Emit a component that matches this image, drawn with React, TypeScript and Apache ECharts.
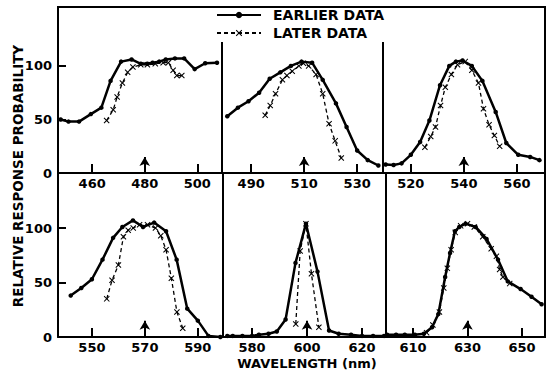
import React, { useEffect, useRef } from "react";
import * as echarts from "echarts";

// ---- data (wavelength nm, relative response probability) ----
const earlierP1 = [[448,50],[451,48],[455,48],[459.5,55],[463.5,61],[467,86],[471,104],[475,106],[478.5,102],[481,102],[483,103],[485.5,104],[488,106],[491.5,107],[495,107],[499,97],[503,102.5],[507.5,103]];
const laterP1 = [[465.5,49],[468,59],[469.5,71],[471.5,84],[473.5,94],[475.5,99],[478.5,101],[481,101],[484,102],[487,103],[489,103],[490.8,96],[492.2,91],[494.1,91]];

const earlierP2 = [[481,53],[485,61],[489,67],[493,75],[497,88],[501,94],[505,100],[509,104],[513,103],[517,87],[522,65],[526,43],[530,21],[534,12],[538,7]];
const laterP2 = [[495.3,54],[497.2,63],[499.2,74],[501.8,87],[503.5,91],[505.5,95],[508,100],[509.7,102.5],[511.7,100],[514.5,92],[517,74],[519.4,46],[521.7,30],[524,14]];

const earlierP3 = [[510.5,8],[513.5,7.5],[516.5,9],[520,17],[523.5,29],[527,49],[531,82],[534.5,100],[537,104],[539.5,105],[543,100],[547,86],[552,57],[556,28],[560.5,17],[565,15],[568.5,12]];
const laterP3 = [[525.3,24],[527.5,34],[529.3,43],[531.2,63],[533,80],[535.3,92],[537.6,101],[540.5,104],[543,96],[545.5,84],[547.4,60],[549.5,45],[551.5,35],[553.5,25]];

const earlierP4 = [[542,38],[546,45],[550,53],[554,71],[558,91],[561.5,101],[565.5,107],[569.3,101],[573.5,105],[578,97],[582,71],[586,26],[590,15],[594,1],[598.5,0]];
const laterP4 = [[555.6,35],[557.6,52],[560,66],[561.9,92],[563.7,98],[565.6,100],[568,103],[571,103],[574,100],[576,93],[578,80],[580,54],[582.1,23],[584.3,8]];

const earlierP5 = [[571,1],[573,1],[576.5,1],[580,1],[582.5,2],[586,3],[589,5],[592.2,16],[595.8,68],[599.6,104],[603.8,60],[608,6],[611.5,3],[616,2],[620,1],[624,1],[628,1]];
const laterP5 = [[595.9,12],[597.5,79],[599.6,104],[601.6,58],[604.3,9]];

const earlierP6 = [[600.5,2],[603.8,2],[607,2],[610.7,2],[614,3],[617,9],[619.3,21],[621.8,55],[623.6,77],[625.4,97],[627,101],[629.3,104],[633,101],[637,90],[641.2,71],[644.8,51],[649.5,44],[653.5,37],[657.2,30]];
const laterP6 = [[615,4],[617.3,11],[619.7,23],[621.3,45],[622.6,63],[624,80],[625.5,96],[627.5,102],[630,104],[632.5,101],[635.6,92],[638.7,81],[640.6,74],[641.8,62],[643,55],[645.5,49]];

const earlierSets = [earlierP1, earlierP2, earlierP3, earlierP4, earlierP5, earlierP6];
const laterSets = [laterP1, laterP2, laterP3, laterP4, laterP5, laterP6];

const tickLabels = [[460,480,500],[490,510,530],[520,540,560],[550,570,590],[580,600,620],[610,630,650]];
const centerWavelengths = [480, 510, 540, 570, 600, 630];
const xRanges = [[447,509.4],[479,539.75],[509.5,570.6],[537.2,599.5],[569.45,628.7],[600.1,658.45]];
const yTicks = [0, 50, 100];
const seriesNames = ["EARLIER DATA", "LATER DATA"];

const FONT = "DejaVu Sans";
const X_SYMBOL = "path://M0,1.2L1.2,0L5,3.8L8.8,0L10,1.2L6.2,5L10,8.8L8.8,10L5,6.2L1.2,10L0,8.8L3.8,5Z";

export default function App() {
  const ref = useRef<HTMLDivElement>(null);
  useEffect(() => {
    if (!ref.current) return;
    const chart = echarts.init(ref.current, null, { renderer: "svg" });
    const grids = [
      { left: 58, top: 7, width: 164, height: 166 },
      { left: 222, top: 7, width: 161, height: 166 },
      { left: 383, top: 7, width: 162, height: 166 },
      { left: 58, top: 173, width: 165, height: 164 },
      { left: 223, top: 173, width: 163, height: 164 },
      { left: 386, top: 173, width: 159, height: 164 },
    ];
    const black = "#000";
    const xAxis = grids.map((_, i) => ({
      type: "value",
      gridIndex: i,
      min: xRanges[i][0],
      max: xRanges[i][1],
      axisLine: { show: true, onZero: false, lineStyle: { color: black, width: 2 } },
      axisTick: { show: true, inside: true, length: 9, customValues: tickLabels[i], lineStyle: { color: black, width: 2 } },
      axisLabel: { show: true, customValues: tickLabels[i], color: black, fontSize: 13, fontWeight: "bold", fontFamily: FONT, margin: 4 },
      splitLine: { show: false },
    }));
    const yAxis = grids.map((_, i) => {
      const left = i === 0 || i === 3;
      return {
        type: "value",
        gridIndex: i,
        min: 0,
        max: i < 3 ? 155 : 150.5,
        axisLine: { show: left, lineStyle: { color: black, width: 2 } },
        axisTick: { show: left, inside: true, length: 8, customValues: [50, 100], lineStyle: { color: black, width: 2 } },
        axisLabel: { show: left, customValues: yTicks, color: black, fontSize: 13, fontWeight: "bold", fontFamily: FONT, margin: 6 },
        splitLine: { show: false },
      };
    });
    const series: any[] = [];
    grids.forEach((_, i) => {
      series.push({
        type: "line",
        name: seriesNames[0],
        xAxisIndex: i,
        yAxisIndex: i,
        data: earlierSets[i],
        symbol: "circle",
        symbolSize: 4.5,
        showAllSymbol: true,
        lineStyle: { color: black, width: 2.5 },
        itemStyle: { color: black },
        markLine: {
          silent: true,
          symbol: ["none", "arrow"],
          symbolSize: [8, 9],
          label: { show: false },
          lineStyle: { color: black, width: 2, type: "solid" },
          data: [[{ coord: [centerWavelengths[i], 0] }, { coord: [centerWavelengths[i], 15] }]],
        },
      });
      series.push({
        type: "line",
        name: seriesNames[1],
        xAxisIndex: i,
        yAxisIndex: i,
        data: laterSets[i],
        symbol: X_SYMBOL,
        symbolSize: 6,
        showAllSymbol: true,
        lineStyle: { color: black, width: 1.3, type: [4, 3] },
        itemStyle: { color: black },
      });
    });
    const line = (x1: number, y1: number, x2: number, y2: number) => ({
      type: "line",
      shape: { x1, y1, x2, y2 },
      style: { stroke: black, lineWidth: 2 },
      silent: true,
    });
    chart.setOption({
      animation: false,
      backgroundColor: "#fff",
      grid: grids.map((g) => ({ ...g, containLabel: false })),
      xAxis,
      yAxis,
      series,
      legend: {
        data: seriesNames,
        orient: "vertical",
        left: 216,
        top: 8,
        itemWidth: 44,
        itemHeight: 8,
        itemGap: 4,
        padding: 0,
        textStyle: { color: black, fontSize: 14, fontWeight: "bold", fontFamily: FONT, padding: [0, 0, 0, 7] },
      },
      graphic: [
        line(57, 7, 546, 7),
        line(545, 7, 545, 338),
        line(222, 42, 222, 173),
        line(383, 42, 383, 173),
        line(223, 173, 223, 337),
        line(386, 173, 386, 337),
        {
          type: "text",
          x: 18,
          y: 176,
          rotation: Math.PI / 2,
          silent: true,
          style: { text: "RELATIVE RESPONSE PROBABILITY", fill: black, fontSize: 13.5, fontWeight: "bold", fontFamily: FONT, align: "center", verticalAlign: "middle" },
        },
        {
          type: "text",
          x: 307,
          y: 363,
          silent: true,
          style: { text: "WAVELENGTH (nm)", fill: black, fontSize: 13, fontWeight: "bold", fontFamily: FONT, align: "center", verticalAlign: "middle" },
        },
      ],
    });
    return () => chart.dispose();
  }, []);
  return <div ref={ref} style={{ width: 556, height: 373, position: "absolute", left: 0, top: 0 }} />;
}
